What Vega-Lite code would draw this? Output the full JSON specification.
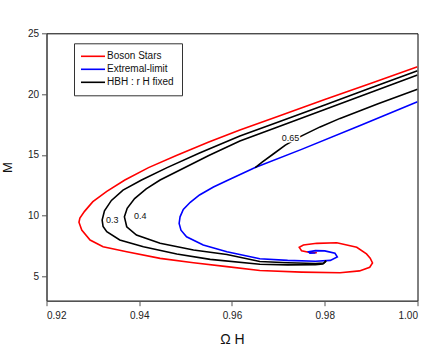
{
  "$schema": "https://vega.github.io/schema/vega-lite/v6.json",
  "width": 371,
  "height": 267.4,
  "autosize": {"type": "none"},
  "padding": {"left": 46.5, "top": 33.3, "right": 18.5, "bottom": 56.3},
  "config": {
    "view": {"stroke": "#000000", "strokeWidth": 1},
    "font": "Liberation Sans",
    "axis": {"grid": false, "domainColor": "#555555", "tickColor": "#555555", "labelColor": "#222222", "labelFontSize": 10, "titleFontWeight": "normal", "titleColor": "#111111"}
  },
  "datasets": {
    "curves": [
      {"series": "Boson Stars", "curve": "bs", "i": 1, "x": 1.0, "M": 22.25},
      {"series": "Boson Stars", "curve": "bs", "i": 2, "x": 0.99, "M": 20.9},
      {"series": "Boson Stars", "curve": "bs", "i": 3, "x": 0.98, "M": 19.55},
      {"series": "Boson Stars", "curve": "bs", "i": 4, "x": 0.97, "M": 18.18},
      {"series": "Boson Stars", "curve": "bs", "i": 5, "x": 0.9617, "M": 17.04},
      {"series": "Boson Stars", "curve": "bs", "i": 6, "x": 0.955, "M": 16.05},
      {"series": "Boson Stars", "curve": "bs", "i": 7, "x": 0.948, "M": 14.95},
      {"series": "Boson Stars", "curve": "bs", "i": 8, "x": 0.942, "M": 13.95},
      {"series": "Boson Stars", "curve": "bs", "i": 9, "x": 0.9369, "M": 12.93},
      {"series": "Boson Stars", "curve": "bs", "i": 10, "x": 0.933, "M": 12.0},
      {"series": "Boson Stars", "curve": "bs", "i": 11, "x": 0.93, "M": 11.15},
      {"series": "Boson Stars", "curve": "bs", "i": 12, "x": 0.9282, "M": 10.35},
      {"series": "Boson Stars", "curve": "bs", "i": 13, "x": 0.9272, "M": 9.8},
      {"series": "Boson Stars", "curve": "bs", "i": 14, "x": 0.927, "M": 9.45},
      {"series": "Boson Stars", "curve": "bs", "i": 15, "x": 0.9276, "M": 8.81},
      {"series": "Boson Stars", "curve": "bs", "i": 16, "x": 0.9294, "M": 7.99},
      {"series": "Boson Stars", "curve": "bs", "i": 17, "x": 0.9322, "M": 7.44},
      {"series": "Boson Stars", "curve": "bs", "i": 18, "x": 0.9373, "M": 7.03},
      {"series": "Boson Stars", "curve": "bs", "i": 19, "x": 0.9445, "M": 6.48},
      {"series": "Boson Stars", "curve": "bs", "i": 20, "x": 0.9517, "M": 6.12},
      {"series": "Boson Stars", "curve": "bs", "i": 21, "x": 0.9589, "M": 5.8},
      {"series": "Boson Stars", "curve": "bs", "i": 22, "x": 0.966, "M": 5.48},
      {"series": "Boson Stars", "curve": "bs", "i": 23, "x": 0.975, "M": 5.35},
      {"series": "Boson Stars", "curve": "bs", "i": 24, "x": 0.9833, "M": 5.3},
      {"series": "Boson Stars", "curve": "bs", "i": 25, "x": 0.9875, "M": 5.45},
      {"series": "Boson Stars", "curve": "bs", "i": 26, "x": 0.9897, "M": 5.75},
      {"series": "Boson Stars", "curve": "bs", "i": 27, "x": 0.9903, "M": 6.1},
      {"series": "Boson Stars", "curve": "bs", "i": 28, "x": 0.9898, "M": 6.5},
      {"series": "Boson Stars", "curve": "bs", "i": 29, "x": 0.989, "M": 6.85},
      {"series": "Boson Stars", "curve": "bs", "i": 30, "x": 0.9869, "M": 7.4},
      {"series": "Boson Stars", "curve": "bs", "i": 31, "x": 0.9826, "M": 7.77},
      {"series": "Boson Stars", "curve": "bs", "i": 32, "x": 0.9783, "M": 7.72},
      {"series": "Boson Stars", "curve": "bs", "i": 33, "x": 0.9754, "M": 7.58},
      {"series": "Boson Stars", "curve": "bs", "i": 34, "x": 0.9745, "M": 7.39},
      {"series": "Boson Stars", "curve": "bs", "i": 35, "x": 0.975, "M": 7.11},
      {"series": "Boson Stars", "curve": "bs", "i": 36, "x": 0.9765, "M": 6.98},
      {"series": "Boson Stars", "curve": "bs", "i": 37, "x": 0.9783, "M": 6.94},
      {"series": "Extremal-limit", "curve": "ext", "i": 1, "x": 1.0, "M": 19.37},
      {"series": "Extremal-limit", "curve": "ext", "i": 2, "x": 0.9875, "M": 17.4},
      {"series": "Extremal-limit", "curve": "ext", "i": 3, "x": 0.975, "M": 15.45},
      {"series": "Extremal-limit", "curve": "ext", "i": 4, "x": 0.965, "M": 13.95},
      {"series": "Extremal-limit", "curve": "ext", "i": 5, "x": 0.9592, "M": 12.93},
      {"series": "Extremal-limit", "curve": "ext", "i": 6, "x": 0.956, "M": 12.35},
      {"series": "Extremal-limit", "curve": "ext", "i": 7, "x": 0.953, "M": 11.7},
      {"series": "Extremal-limit", "curve": "ext", "i": 8, "x": 0.951, "M": 11.1},
      {"series": "Extremal-limit", "curve": "ext", "i": 9, "x": 0.9495, "M": 10.5},
      {"series": "Extremal-limit", "curve": "ext", "i": 10, "x": 0.9488, "M": 9.9},
      {"series": "Extremal-limit", "curve": "ext", "i": 11, "x": 0.9486, "M": 9.36},
      {"series": "Extremal-limit", "curve": "ext", "i": 12, "x": 0.949, "M": 8.8},
      {"series": "Extremal-limit", "curve": "ext", "i": 13, "x": 0.9502, "M": 8.26},
      {"series": "Extremal-limit", "curve": "ext", "i": 14, "x": 0.9538, "M": 7.58},
      {"series": "Extremal-limit", "curve": "ext", "i": 15, "x": 0.9589, "M": 7.03},
      {"series": "Extremal-limit", "curve": "ext", "i": 16, "x": 0.966, "M": 6.45},
      {"series": "Extremal-limit", "curve": "ext", "i": 17, "x": 0.972, "M": 6.32},
      {"series": "Extremal-limit", "curve": "ext", "i": 18, "x": 0.978, "M": 6.25},
      {"series": "Extremal-limit", "curve": "ext", "i": 19, "x": 0.9812, "M": 6.32},
      {"series": "Extremal-limit", "curve": "ext", "i": 20, "x": 0.9827, "M": 6.6},
      {"series": "Extremal-limit", "curve": "ext", "i": 21, "x": 0.9822, "M": 6.9},
      {"series": "Extremal-limit", "curve": "ext", "i": 22, "x": 0.98, "M": 7.1},
      {"series": "Extremal-limit", "curve": "ext", "i": 23, "x": 0.978, "M": 7.12},
      {"series": "Extremal-limit", "curve": "ext", "i": 24, "x": 0.9765, "M": 7.02},
      {"series": "Extremal-limit", "curve": "ext", "i": 25, "x": 0.9768, "M": 6.9},
      {"series": "Extremal-limit", "curve": "ext", "i": 26, "x": 0.978, "M": 6.92},
      {"series": "HBH : r H fixed", "curve": "h03", "i": 1, "x": 1.0, "M": 21.92},
      {"series": "HBH : r H fixed", "curve": "h03", "i": 2, "x": 0.99, "M": 20.51},
      {"series": "HBH : r H fixed", "curve": "h03", "i": 3, "x": 0.98, "M": 19.11},
      {"series": "HBH : r H fixed", "curve": "h03", "i": 4, "x": 0.97, "M": 17.71},
      {"series": "HBH : r H fixed", "curve": "h03", "i": 5, "x": 0.9617, "M": 16.55},
      {"series": "HBH : r H fixed", "curve": "h03", "i": 6, "x": 0.953, "M": 15.15},
      {"series": "HBH : r H fixed", "curve": "h03", "i": 7, "x": 0.946, "M": 13.95},
      {"series": "HBH : r H fixed", "curve": "h03", "i": 8, "x": 0.9405, "M": 12.93},
      {"series": "HBH : r H fixed", "curve": "h03", "i": 9, "x": 0.9365, "M": 12.1},
      {"series": "HBH : r H fixed", "curve": "h03", "i": 10, "x": 0.934, "M": 11.25},
      {"series": "HBH : r H fixed", "curve": "h03", "i": 11, "x": 0.9325, "M": 10.4},
      {"series": "HBH : r H fixed", "curve": "h03", "i": 12, "x": 0.932, "M": 9.63},
      {"series": "HBH : r H fixed", "curve": "h03", "i": 13, "x": 0.9322, "M": 9.1},
      {"series": "HBH : r H fixed", "curve": "h03", "i": 14, "x": 0.933, "M": 8.67},
      {"series": "HBH : r H fixed", "curve": "h03", "i": 15, "x": 0.9358, "M": 7.99},
      {"series": "HBH : r H fixed", "curve": "h03", "i": 16, "x": 0.9409, "M": 7.44},
      {"series": "HBH : r H fixed", "curve": "h03", "i": 17, "x": 0.9481, "M": 6.84},
      {"series": "HBH : r H fixed", "curve": "h03", "i": 18, "x": 0.9553, "M": 6.4},
      {"series": "HBH : r H fixed", "curve": "h03", "i": 19, "x": 0.966, "M": 6.0},
      {"series": "HBH : r H fixed", "curve": "h03", "i": 20, "x": 0.972, "M": 5.95},
      {"series": "HBH : r H fixed", "curve": "h03", "i": 21, "x": 0.978, "M": 5.97},
      {"series": "HBH : r H fixed", "curve": "h03", "i": 22, "x": 0.9796, "M": 6.02},
      {"series": "HBH : r H fixed", "curve": "h03", "i": 23, "x": 0.9803, "M": 6.25},
      {"series": "HBH : r H fixed", "curve": "h04", "i": 1, "x": 1.0, "M": 21.57},
      {"series": "HBH : r H fixed", "curve": "h04", "i": 2, "x": 0.99, "M": 20.15},
      {"series": "HBH : r H fixed", "curve": "h04", "i": 3, "x": 0.98, "M": 18.74},
      {"series": "HBH : r H fixed", "curve": "h04", "i": 4, "x": 0.97, "M": 17.32},
      {"series": "HBH : r H fixed", "curve": "h04", "i": 5, "x": 0.9617, "M": 16.14},
      {"series": "HBH : r H fixed", "curve": "h04", "i": 6, "x": 0.955, "M": 14.95},
      {"series": "HBH : r H fixed", "curve": "h04", "i": 7, "x": 0.949, "M": 13.8},
      {"series": "HBH : r H fixed", "curve": "h04", "i": 8, "x": 0.9445, "M": 12.93},
      {"series": "HBH : r H fixed", "curve": "h04", "i": 9, "x": 0.9415, "M": 12.2},
      {"series": "HBH : r H fixed", "curve": "h04", "i": 10, "x": 0.939, "M": 11.4},
      {"series": "HBH : r H fixed", "curve": "h04", "i": 11, "x": 0.9374, "M": 10.6},
      {"series": "HBH : r H fixed", "curve": "h04", "i": 12, "x": 0.9368, "M": 9.9},
      {"series": "HBH : r H fixed", "curve": "h04", "i": 13, "x": 0.9373, "M": 9.08},
      {"series": "HBH : r H fixed", "curve": "h04", "i": 14, "x": 0.9394, "M": 8.4},
      {"series": "HBH : r H fixed", "curve": "h04", "i": 15, "x": 0.9445, "M": 7.72},
      {"series": "HBH : r H fixed", "curve": "h04", "i": 16, "x": 0.9517, "M": 7.17},
      {"series": "HBH : r H fixed", "curve": "h04", "i": 17, "x": 0.9589, "M": 6.8},
      {"series": "HBH : r H fixed", "curve": "h04", "i": 18, "x": 0.966, "M": 6.22},
      {"series": "HBH : r H fixed", "curve": "h04", "i": 19, "x": 0.972, "M": 6.12},
      {"series": "HBH : r H fixed", "curve": "h04", "i": 20, "x": 0.978, "M": 6.06},
      {"series": "HBH : r H fixed", "curve": "h04", "i": 21, "x": 0.9798, "M": 6.1},
      {"series": "HBH : r H fixed", "curve": "h04", "i": 22, "x": 0.9803, "M": 6.3},
      {"series": "HBH : r H fixed", "curve": "h065", "i": 1, "x": 0.965, "M": 13.95},
      {"series": "HBH : r H fixed", "curve": "h065", "i": 2, "x": 0.9665, "M": 14.4},
      {"series": "HBH : r H fixed", "curve": "h065", "i": 3, "x": 0.9689, "M": 15.07},
      {"series": "HBH : r H fixed", "curve": "h065", "i": 4, "x": 0.9715, "M": 15.8},
      {"series": "HBH : r H fixed", "curve": "h065", "i": 5, "x": 0.9747, "M": 16.5},
      {"series": "HBH : r H fixed", "curve": "h065", "i": 6, "x": 0.979, "M": 17.3},
      {"series": "HBH : r H fixed", "curve": "h065", "i": 7, "x": 0.9833, "M": 18.0},
      {"series": "HBH : r H fixed", "curve": "h065", "i": 8, "x": 0.9915, "M": 19.2},
      {"series": "HBH : r H fixed", "curve": "h065", "i": 9, "x": 1.0, "M": 20.39}
    ],
    "labels": [
      {"label": "0.3", "x": 0.9342, "M": 9.65},
      {"label": "0.4", "x": 0.9402, "M": 9.95},
      {"label": "0.65", "x": 0.9726, "M": 16.4}
    ]
  },
  "encoding": {
    "x": {"field": "x", "type": "quantitative", "scale": {"domain": [0.92, 1.0], "zero": false, "nice": false},
      "axis": {"values": [0.92, 0.94, 0.96, 0.98, 1.0], "format": ".2f", "tickSize": 5, "labelPadding": 5, "title": "Ω H", "titleFontSize": 14, "titlePadding": 12}},
    "y": {"field": "M", "type": "quantitative", "scale": {"domain": [3, 25], "zero": false, "nice": false},
      "axis": {"values": [5, 10, 15, 20, 25], "tickSize": 5, "labelPadding": 3, "title": "M", "titleFontSize": 13, "titlePadding": 13}}
  },
  "layer": [
    {
      "data": {"name": "curves"},
      "mark": {"type": "line", "strokeWidth": 1.6, "clip": true},
      "encoding": {
        "color": {"field": "series", "type": "nominal",
          "scale": {"domain": ["Boson Stars", "Extremal-limit", "HBH : r H fixed"], "range": ["#ff0000", "#0000ff", "#000000"]},
          "legend": {"orient": "none", "legendX": 27.5, "legendY": 10, "title": null, "symbolType": "M-6,0H6", "symbolSize": 16, "symbolStrokeWidth": 1.6, "symbolOffset": 6, "labelOffset": 9, "labelFontSize": 10, "labelColor": "#111111", "strokeColor": "#333333", "fillColor": "#ffffff", "padding": 8, "rowPadding": 3}},
        "detail": {"field": "curve"},
        "order": {"field": "i", "type": "quantitative"}
      }
    },
    {
      "data": {"name": "labels"},
      "mark": {"type": "text", "fontSize": 9, "stroke": "#ffffff", "strokeWidth": 3, "fill": "#ffffff"},
      "encoding": {"text": {"field": "label"}}
    },
    {
      "data": {"name": "labels"},
      "mark": {"type": "text", "fontSize": 9, "fill": "#111111"},
      "encoding": {"text": {"field": "label"}}
    }
  ]
}
